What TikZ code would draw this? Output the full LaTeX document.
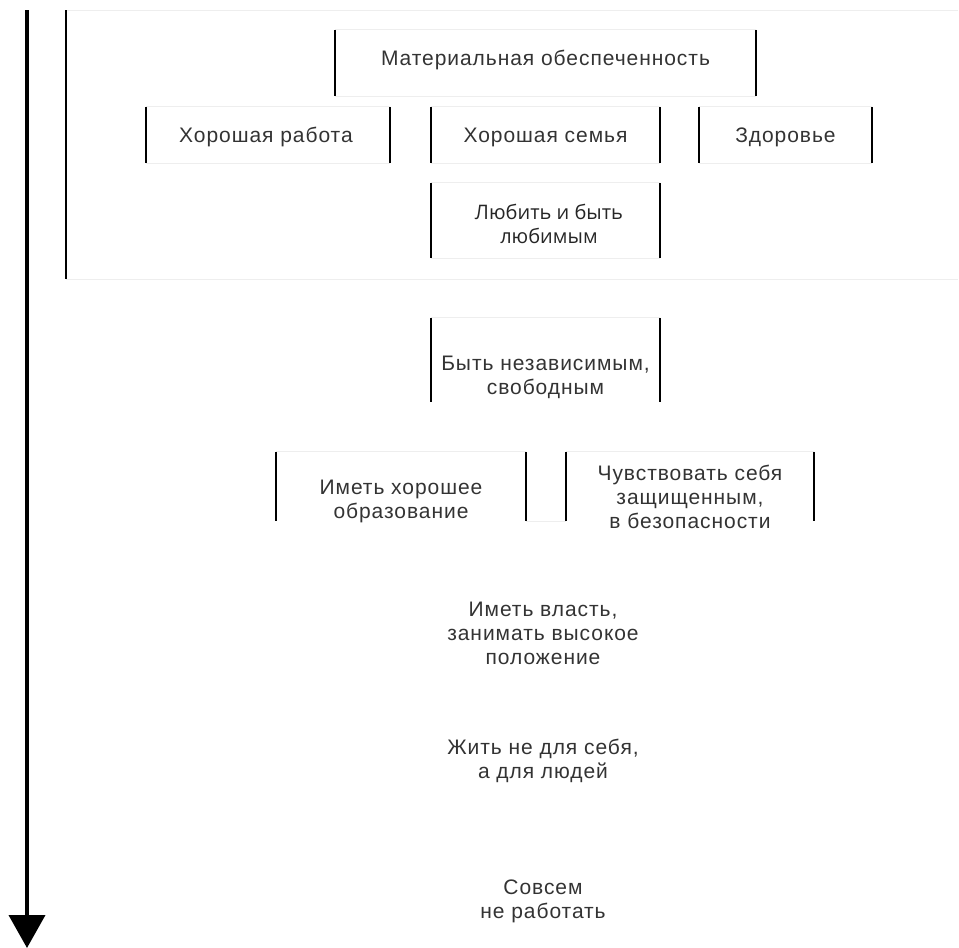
\documentclass[tikz,border=0pt]{standalone}
\usepackage{fontspec}
\setmainfont[LetterSpace=4.5]{Liberation Sans}
\newfontfamily\lovefont{Open Sans}
\usetikzlibrary{arrows.meta}
\definecolor{txtc}{HTML}{333333}
\definecolor{faint}{HTML}{EEEEEE}
\tikzset{
  boxnode/.style={draw=none, inner sep=0pt},
  side/.style={draw=black, line width=1.6pt},
  faintline/.style={draw=faint, line width=1pt},
  txt/.style={text=txtc, font=\fontsize{21}{24}\selectfont, align=center, inner sep=0pt},
}
\begin{document}
\begin{tikzpicture}[x=1pt,y=-1pt]
\useasboundingbox (0,0) rectangle (959,948);
% main arrow
\coordinate (atop) at (27,10);
\coordinate (abot) at (27,948);
\draw[line width=4pt, -{Triangle[length=33pt,width=36pt]}] (atop) -- (abot);
% big bracket
\coordinate (bt1) at (66,10);
\coordinate (bt2) at (958,10);
\coordinate (bb1) at (66,279);
\coordinate (bb2) at (958,279);
\draw[faintline] (bt1) -- (bt2);
\draw[faintline] (bb1) -- (bb2);
\draw[side] (bt1) -- (bb1);
% boxes
\node[boxnode, minimum width=421pt, minimum height=66pt] (mat) at (545.5,63) {};
\node[boxnode, minimum width=244pt, minimum height=56pt] (job) at (268,135) {};
\node[boxnode, minimum width=229pt, minimum height=56pt] (fam) at (545.5,135) {};
\node[boxnode, minimum width=173pt, minimum height=56pt] (hlth) at (785.5,135) {};
\node[boxnode, minimum width=229pt, minimum height=75pt] (love) at (545.5,220.5) {};
\node[boxnode, minimum width=229pt, minimum height=84pt] (free) at (545.5,360) {};
\node[boxnode, minimum width=250pt, minimum height=69pt] (edu) at (401,486.5) {};
\node[boxnode, minimum width=248pt, minimum height=69pt] (safe) at (690,486.5) {};
\foreach \b in {mat,job,fam,hlth,love,free,edu,safe}{
  \draw[faintline] (\b.north west) -- (\b.north east);
  \draw[side] (\b.north west) -- (\b.south west);
  \draw[side] (\b.north east) -- (\b.south east);
}
\foreach \b in {mat,job,fam,hlth,love}{
  \draw[faintline] (\b.south west) -- (\b.south east);
}
\draw[faintline] (edu.south east) -- (safe.south west);
% texts
\node[txt] (tmat) at (545.5,60) {Материальная обеспеченность};
\node[txt] (tjob) at (266,137) {Хорошая работа};
\node[txt] (tfam) at (545.5,137) {Хорошая семья};
\node[txt] (thlth) at (785.5,137) {Здоровье};
\node[txt, font=\lovefont\fontsize{20}{24}\selectfont, text=black!85] (tlove) at (549,224) {Любить и быть\\любимым};
\node[txt] (tfree) at (545.5,377.5) {Быть независимым,\\свободным};
\node[txt] (tedu) at (401,501) {Иметь хорошее\\образование};
\node[txt] (tsafe) at (690,497) {Чувствовать себя\\защищенным,\\в безопасности};
\node[txt] (tpow) at (543,633) {Иметь власть,\\занимать высокое\\положение};
\node[txt] (tlive) at (543,761) {Жить не для себя,\\а для людей};
\node[txt] (tnot) at (543,901) {Совсем\\не работать};
\end{tikzpicture}
\end{document}
